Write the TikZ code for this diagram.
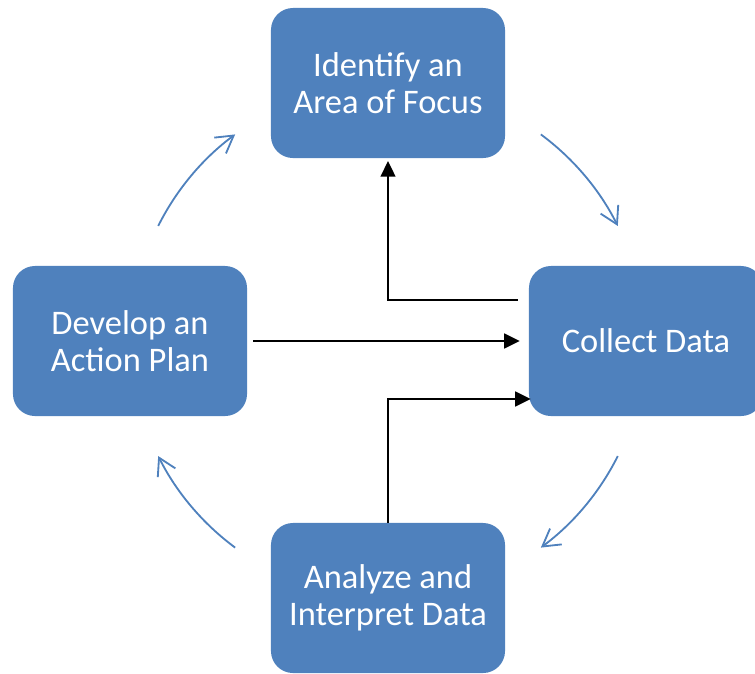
\documentclass[tikz,border=0pt]{standalone}
\usepackage{fontspec}
\setmainfont{Carlito}
\usetikzlibrary{arrows.meta,positioning,calc}
\definecolor{boxblue}{HTML}{4F81BD}

\begin{document}
\begin{tikzpicture}[x=0.025cm, y=0.025cm,
box/.style  = {fill=boxblue, rounded corners=0.55cm,
               minimum width=5.85cm, minimum height=3.75cm,
               text=white, align=center,
               font=\fontsize{24.5}{26.3}\selectfont},
flow/.style = {draw=black, line width=1.4pt,
               -{Triangle[length=11pt,width=10.5pt]}},
cyc/.style  = {draw=boxblue, line width=1.3pt,
               -{Straight Barb[length=12pt,width=14pt]}}
                        ]
\useasboundingbox (0,0) rectangle (755,-673);
\coordinate (hub) at (388,-341);
%
\node (ident)   [box] at ($(hub)+(0,258)$)   {Identify an\\Area of Focus};
\node (collect) [box] at ($(hub)+(258,0)$)   {Collect Data};
\node (analyze) [box] at ($(hub)+(0,-257)$)  {Analyze and\\Interpret Data};
\node (plan)    [box] at ($(hub)+(-258,0)$)  {Develop an\\Action Plan};
%
\draw[flow] ($(collect.west)+(-11,41)$) -| ([yshift=-2pt]ident.south);
\draw[flow] ($(plan.east)+(6,0)$) -- ($(collect.west)+(-9,0)$);
\draw[flow] (analyze.north) |- ($(collect.west)+(2,-58)$);
%
\draw[cyc] ($(hub)+(153.4:257)$) arc[start angle=153.4, end angle=126.5, radius=257];
\draw[cyc] ($(hub)+(53.5:257)$)  arc[start angle=53.5,  end angle=26.6,  radius=257];
\draw[cyc] ($(hub)+(-26.6:257)$) arc[start angle=-26.6, end angle=-53.5, radius=257];
\draw[cyc] ($(hub)+(-126.5:257)$) arc[start angle=-126.5, end angle=-153.4, radius=257];
\end{tikzpicture}
\end{document}
